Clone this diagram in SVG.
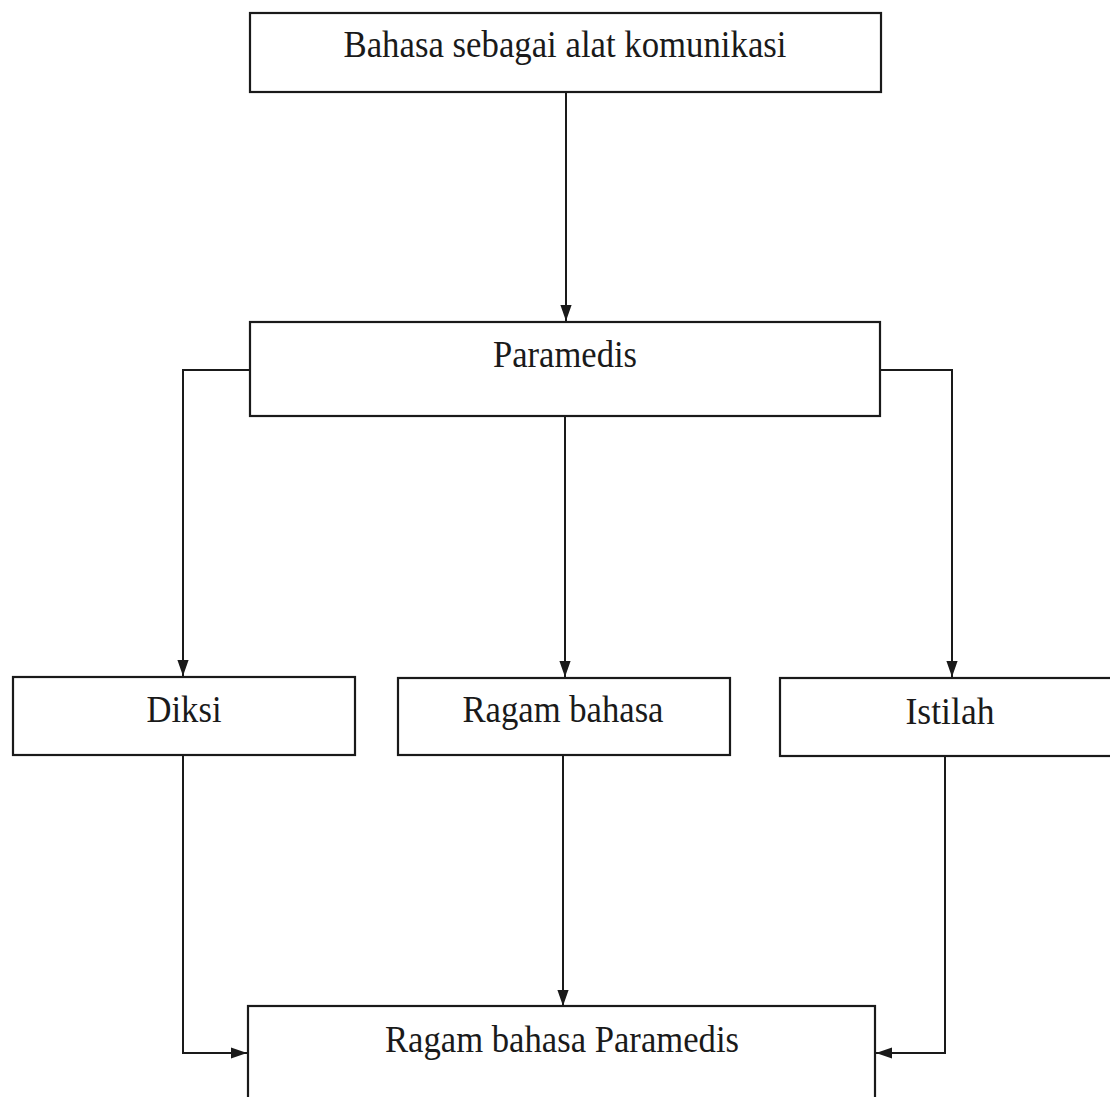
<svg xmlns="http://www.w3.org/2000/svg" width="1110" height="1097" viewBox="0 0 1110 1097">
<style>
.box{fill:#fff;stroke:#1a1a1a;stroke-width:2.2}
.lbl{font-family:"Liberation Serif","Times New Roman",serif;font-size:37px;fill:#1a1a1a;text-anchor:middle}
.ln{fill:none;stroke:#1a1a1a;stroke-width:2}
</style>
<defs>
<marker id="ahv" viewBox="0 0 10 10" refX="10" refY="5" markerWidth="16" markerHeight="16" markerUnits="userSpaceOnUse" orient="auto">
<path d="M0,1.5 L10,5 L0,8.5 Z" fill="#1a1a1a"/>
</marker>
</defs>
<rect width="1110" height="1097" fill="#fff"/>
<g id="connectors">
<path class="ln" d="M566,92 V321" marker-end="url(#ahv)"/>
<path class="ln" d="M250,370 H183 V676" marker-end="url(#ahv)"/>
<path class="ln" d="M565,416 V677" marker-end="url(#ahv)"/>
<path class="ln" d="M880,370 H952 V677" marker-end="url(#ahv)"/>
<path class="ln" d="M183,755 V1053 H247" marker-end="url(#ahv)"/>
<path class="ln" d="M563,755 V1006" marker-end="url(#ahv)"/>
<path class="ln" d="M945,756 V1053 H876" marker-end="url(#ahv)"/>
</g>
<g id="n1"><rect class="box" x="250" y="13" width="631" height="79"/><text class="lbl" x="565" y="57" textLength="443" lengthAdjust="spacingAndGlyphs">Bahasa sebagai alat komunikasi</text></g>
<g id="n2"><rect class="box" x="250" y="322" width="630" height="94"/><text class="lbl" x="565" y="367" textLength="144" lengthAdjust="spacingAndGlyphs">Paramedis</text></g>
<g id="n3"><rect class="box" x="13" y="677" width="342" height="78"/><text class="lbl" x="184" y="722" textLength="75" lengthAdjust="spacingAndGlyphs">Diksi</text></g>
<g id="n4"><rect class="box" x="398" y="678" width="332" height="77"/><text class="lbl" x="563" y="722" textLength="201" lengthAdjust="spacingAndGlyphs">Ragam bahasa</text></g>
<g id="n5"><rect class="box" x="780" y="678" width="340" height="78"/><text class="lbl" x="950" y="724" textLength="89" lengthAdjust="spacingAndGlyphs">Istilah</text></g>
<g id="n6"><rect class="box" x="248" y="1006" width="627" height="110"/><text class="lbl" x="562" y="1052" textLength="354" lengthAdjust="spacingAndGlyphs">Ragam bahasa Paramedis</text></g>
</svg>
